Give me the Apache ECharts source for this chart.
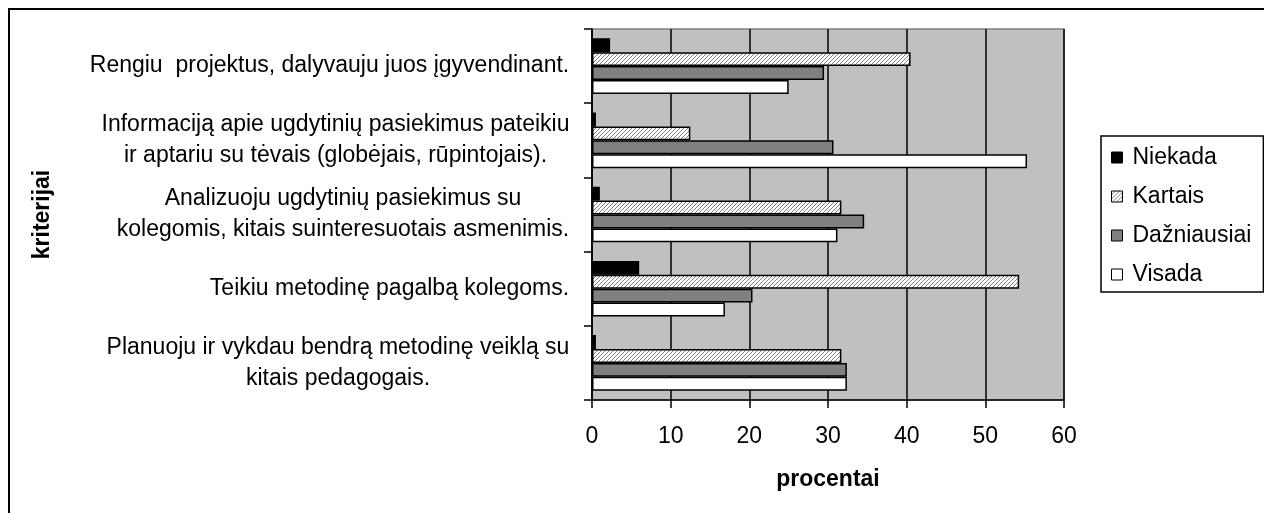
<!DOCTYPE html>
<html>
<head>
<meta charset="utf-8">
<script src="https://cdn.jsdelivr.net/npm/echarts@6/dist/echarts.min.js"></script>
<style>
  html, body { margin: 0; padding: 0; background: #fff; }
  #chart { width: 1264px; height: 513px; }
</style>
</head>
<body>
<div id="chart"></div>
<script>
// Criteria, listed from the bottom of the axis to the top
const categories = [
  'Planuoju ir vykdau bendrą metodinę veiklą su\nkitais pedagogais.',
  'Teikiu metodinę pagalbą kolegoms.',
  'Analizuoju ugdytinių pasiekimus su\nkolegomis, kitais suinteresuotais asmenimis.',
  'Informaciją apie ugdytinių pasiekimus pateikiu\nir aptariu su tėvais (globėjais, rūpintojais).',
  'Rengiu  projektus, dalyvauju juos įgyvendinant.'
];

const seriesNames = ['Niekada', 'Kartais', 'Dažniausiai', 'Visada'];

// Percentages per criterion (same order as categories)
const niekada     = [0.5, 6.0, 1.0, 0.5, 2.3];
const kartais     = [31.7, 54.3, 31.7, 12.5, 40.5];
const dazniausiai = [32.4, 20.4, 34.6, 30.7, 29.5];
const visada      = [32.4, 16.9, 31.2, 55.3, 25.0];

const xTicks = [0, 10, 20, 30, 40, 50, 60];

const FONT = '"Liberation Sans", Arial, sans-serif';
const LABEL_SIZE = 23;

// Diagonal hatch tile for the "Kartais" bars
function hatchTile() {
  const c = document.createElement('canvas');
  c.width = 4; c.height = 4;
  const g = c.getContext('2d');
  g.fillStyle = '#ffffff';
  g.fillRect(0, 0, 4, 4);
  g.strokeStyle = '#808080';
  g.lineWidth = 1;
  g.beginPath();
  g.moveTo(0, 4); g.lineTo(4, 0);
  g.moveTo(-1, 1); g.lineTo(1, -1);
  g.moveTo(3, 5); g.lineTo(5, 3);
  g.stroke();
  return c;
}
const hatch = { image: hatchTile(), repeat: 'repeat' };

// Multi-line category labels: the block is right-aligned, lines centred inside it
const meas = document.createElement('canvas').getContext('2d');
meas.font = LABEL_SIZE + 'px ' + FONT;
const rich = {};
categories.forEach((cat, i) => {
  const w = Math.max(...cat.split('\n').map(l => meas.measureText(l).width));
  rich['c' + i] = {
    width: Math.ceil(w) + 1,
    align: 'center',
    fontSize: LABEL_SIZE,
    fontFamily: FONT,
    lineHeight: 31,
    color: '#000'
  };
});

const seriesData = [niekada, kartais, dazniausiai, visada];
const seriesColors = ['#000000', hatch, '#808080', '#ffffff'];

const chart = echarts.init(document.getElementById('chart'), null, { renderer: 'canvas' });

chart.setOption({
  animation: false,
  backgroundColor: '#ffffff',
  textStyle: { fontFamily: FONT, color: '#000' },
  graphic: [{
    type: 'rect',
    shape: { x: 9, y: 9, width: 1400, height: 800 },
    style: { fill: 'none', stroke: '#000', lineWidth: 2 },
    silent: true,
    z: 100
  }],
  grid: {
    left: 592, top: 29, right: 200, bottom: 113,
    show: true,
    backgroundColor: '#c0c0c0',
    borderColor: '#808080',
    borderWidth: 1.5
  },
  legend: {
    orient: 'vertical',
    left: 1101,
    top: 136,
    data: seriesNames,
    icon: 'rect',
    itemWidth: 11,
    itemHeight: 11,
    itemGap: 16,
    padding: [10, 12, 6, 10],
    borderColor: '#000',
    borderWidth: 1.5,
    backgroundColor: '#fff',
    itemStyle: { borderColor: '#000', borderWidth: 1 },
    textStyle: {
      fontFamily: FONT,
      fontSize: LABEL_SIZE,
      lineHeight: 23,
      color: '#000',
      padding: [0, 0, 0, 5]
    }
  },
  xAxis: {
    type: 'value',
    min: xTicks[0],
    max: xTicks[xTicks.length - 1],
    interval: xTicks[1] - xTicks[0],
    name: 'procentai',
    nameLocation: 'middle',
    nameGap: 68,
    nameTextStyle: { fontFamily: FONT, fontSize: LABEL_SIZE, fontWeight: 'bold', color: '#000' },
    axisLine: { show: true, onZero: false, lineStyle: { color: '#000', width: 1.5 } },
    axisTick: { show: true, length: 8, inside: false, lineStyle: { color: '#000', width: 1.5 } },
    axisLabel: { margin: 25, fontFamily: FONT, fontSize: LABEL_SIZE, color: '#000' },
    splitLine: { show: true, lineStyle: { color: '#000', width: 1.5 } }
  },
  yAxis: {
    type: 'category',
    data: categories,
    name: 'kriterijai',
    nameLocation: 'middle',
    nameGap: 538,
    nameTextStyle: { fontFamily: FONT, fontSize: LABEL_SIZE, fontWeight: 'bold', color: '#000' },
    axisLine: { show: true, lineStyle: { color: '#000', width: 1.5 } },
    axisTick: { show: true, length: 8, alignWithLabel: false, interval: 0, lineStyle: { color: '#000', width: 1.5 } },
    axisLabel: {
      margin: 22,
      interval: 0,
      formatter: (value, index) => value.split('\n').map(l => '{c' + index + '|' + l + '}').join('\n'),
      rich: rich
    },
    splitLine: { show: false }
  },
  series: seriesNames.map((name, i) => ({
    name: name,
    type: 'bar',
    data: seriesData[i],
    barGap: '0%',
    barCategoryGap: '25%',
    itemStyle: {
      color: seriesColors[i],
      borderColor: '#000',
      borderWidth: 1.5
    }
  }))
});
</script>
</body>
</html>
